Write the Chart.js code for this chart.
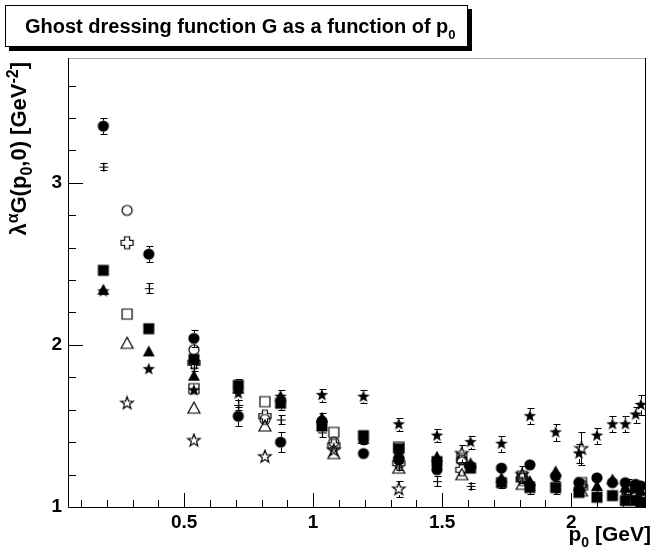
<!DOCTYPE html>
<html>
<head>
<meta charset="utf-8">
<script src="https://cdn.jsdelivr.net/npm/chart.js@4.4.1/dist/chart.umd.min.js"></script>
<style>
  body { margin: 0; background: #fff; }
  #wrap { position: relative; width: 653px; height: 548px; font-family: "Liberation Sans", Arial, sans-serif; font-weight: bold; color: #000; }
  #c { position: absolute; left: 0; top: 0; }
  #title { position: absolute; left: 5px; top: 5px; width: 442px; padding-left: 19px; height: 40px; border: 1px solid #000; background: #fff;
           box-shadow: 4px 4px 0 #000; font-size: 20px; line-height: 40px; text-align: left; white-space: nowrap; }
  #ytitle { position: absolute; left: 8px; top: 322px; width: 260px; line-height: 22px; font-size: 22px; text-align: right;
            white-space: nowrap; transform-origin: top left; transform: rotate(-90deg); }
  #xtitle { position: absolute; right: 2px; top: 523px; font-size: 21px; line-height: 22px; white-space: nowrap; }
  sub, sup { font-size: 13px; line-height: 0; }
  #ytitle sub, #ytitle sup { font-size: 16px; }
  #xtitle sub { font-size: 14px; }
  sub { vertical-align: -6px; }
  sup { vertical-align: 8px; }
</style>
</head>
<body>
<div id="wrap">
  <canvas id="c" width="653" height="548"></canvas>
  <div id="title">Ghost dressing function G as a function of p<sub>0</sub></div>
  <div id="ytitle">&lambda;<sup>&alpha;</sup>G(p<sub>0</sub>,0) [GeV<sup>-2</sup>]</div>
  <div id="xtitle">p<sub>0</sub> [GeV]</div>
</div>
<script>
// momenta (GeV) of the two lattice sets
const xFilled = [0.187, 0.363, 0.538, 0.71, 0.874, 1.034, 1.195, 1.332, 1.48, 1.61, 1.73, 1.84, 1.94, 2.03, 2.10, 2.16, 2.21, 2.25, 2.27];
const xOpen = [0.279, 0.538, 0.813, 1.08, 1.332, 1.576, 1.81, 2.04, 2.22];

// filled-marker series
const fCircle = [3.35, 2.56, 2.04, 1.56, 1.40, 1.53, 1.33, 1.29, 1.23, 1.25, 1.24, 1.26, 1.19, 1.15, 1.18, 1.15, 1.15, 1.14, 1.13];
const fCircleErr = [0.05, 0.05, 0.05, 0.06, 0.06, 0.05, 0.03, 0.03, 0.03, 0.03, 0.02, 0.02, 0.02, 0.02, 0.02, 0.02, 0.02, 0.02, 0.02];
const fPlus = [3.10, 2.35, 1.86, 1.63, 1.54, 1.46, 1.41, 1.25, 1.16, 1.13, 1.14, 1.12, 1.11, 1.10, 1.09, 1.08, 1.08, 1.07, 1.06];
const fPlusErr = [0.02, 0.03, 0.02, 0.03, 0.03, 0.03, 0.02, 0.02, 0.03, 0.02, 0.02, 0.02, 0.02, 0.02, 0.02, 0.02, 0.02, 0.02, 0.02];
const fSquare = [2.46, 2.10, 1.91, 1.75, 1.64, 1.50, 1.44, 1.36, 1.28, 1.24, 1.15, 1.12, 1.12, 1.09, 1.06, 1.07, 1.04, 1.04, 1.03];
const fSquareErr = [0.02, 0.02, 0.02, 0.04, 0.04, 0.02, 0.02, 0.02, 0.02, 0.02, 0.02, 0.04, 0.04, 0.02, 0.02, 0.02, 0.02, 0.02, 0.02];
const fTriangle = [2.34, 1.96, 1.81, 1.73, 1.68, 1.55, 1.42, 1.33, 1.31, 1.27, 1.18, 1.16, 1.22, 1.13, 1.13, 1.17, 1.12, 1.12, 1.10];
const fTriangleErr = [0.02, 0.02, 0.02, 0.02, 0.02, 0.02, 0.02, 0.02, 0.02, 0.02, 0.02, 0.02, 0.02, 0.02, 0.02, 0.02, 0.02, 0.02, 0.02];
const fStar = [2.33, 1.85, 1.72, 1.70, 1.68, 1.69, 1.68, 1.51, 1.44, 1.40, 1.39, 1.56, 1.46, 1.33, 1.44, 1.51, 1.51, 1.57, 1.63];
const fStarErr = [0.02, 0.02, 0.02, 0.04, 0.04, 0.04, 0.04, 0.04, 0.04, 0.04, 0.05, 0.05, 0.05, 0.06, 0.05, 0.05, 0.05, 0.05, 0.06];

// open-marker series
const oCircle = [2.83, 1.97, 1.54, 1.40, 1.30, 1.29, 1.18, 1.14, 1.13];
const oCircleErr = [0.02, 0.02, 0.02, 0.02, 0.02, 0.02, 0.02, 0.02, 0.02];
const oCross = [2.63, 1.89, 1.56, 1.38, 1.27, 1.23, 1.17, 1.12, 1.10];
const oCrossErr = [0.02, 0.02, 0.02, 0.02, 0.02, 0.02, 0.02, 0.02, 0.02];
const oSquare = [2.19, 1.73, 1.65, 1.46, 1.37, 1.30, 1.19, 1.15, 1.12];
const oSquareErr = [0.02, 0.02, 0.02, 0.02, 0.02, 0.02, 0.02, 0.02, 0.02];
const oTriangle = [2.01, 1.61, 1.50, 1.33, 1.24, 1.20, 1.14, 1.10, 1.08];
const oTriangleErr = [0.02, 0.02, 0.02, 0.02, 0.02, 0.02, 0.02, 0.02, 0.02];
const oStar = [1.64, 1.41, 1.31, 1.35, 1.11, 1.33, 1.20, 1.36, 1.12];
const oStarErr = [0.02, 0.02, 0.02, 0.04, 0.05, 0.05, 0.05, 0.10, 0.05];

// ROOT-like markers drawn into small canvases
function marker(kind, filled) {
  const s = 16;
  const c = document.createElement('canvas');
  c.width = s; c.height = s;
  const g = c.getContext('2d');
  g.translate(s / 2, s / 2);
  g.lineWidth = 1.2;
  g.strokeStyle = '#000';
  g.fillStyle = '#000';
  g.beginPath();
  if (kind === 'circle') {
    g.arc(0, 0, filled ? 5.6 : 5, 0, Math.PI * 2);
  } else if (kind === 'square') {
    if (filled) g.rect(-5.5, -5.5, 11, 11); else g.rect(-5, -5, 10, 10);
  } else if (kind === 'triangle') {
    g.moveTo(0, -6); g.lineTo(6, 5); g.lineTo(-6, 5); g.closePath();
  } else if (kind === 'star') {
    for (let k = 0; k < 10; k++) {
      const r = k % 2 ? 2.7 : 6.6;
      const a = -Math.PI / 2 + k * Math.PI / 5;
      k ? g.lineTo(r * Math.cos(a), r * Math.sin(a)) : g.moveTo(r * Math.cos(a), r * Math.sin(a));
    }
    g.closePath();
  } else if (kind === 'cross') {
    const w = 2.5, l = 6;
    g.moveTo(-w, -l); g.lineTo(w, -l); g.lineTo(w, -w); g.lineTo(l, -w); g.lineTo(l, w); g.lineTo(w, w);
    g.lineTo(w, l); g.lineTo(-w, l); g.lineTo(-w, w); g.lineTo(-l, w); g.lineTo(-l, -w); g.lineTo(-w, -w);
    g.closePath();
  } else if (kind === 'plus') {
    g.moveTo(-4, 0.5); g.lineTo(5, 0.5);
    g.moveTo(0.5, -4); g.lineTo(0.5, 5);
    g.stroke();
    return c;
  }
  if (filled) g.fill(); else g.stroke();
  return c;
}

function series(xs, ys, errs, style, half) {
  return {
    data: xs.map((x, i) => ({ x: x, y: ys[i] })),
    errors: errs,
    markerHalf: half,
    pointStyle: style,
    pointRadius: 6,
    pointHoverRadius: 6,
    showLine: false
  };
}

// error bars that stop at the marker edge
const errorBars = {
  id: 'errorBars',
  beforeDatasetsDraw(chart) {
    const ctx = chart.ctx, ys = chart.scales.y, a = chart.chartArea;
    ctx.save();
    ctx.beginPath();
    ctx.rect(a.left, a.top, a.right - a.left, a.bottom - a.top);
    ctx.clip();
    ctx.strokeStyle = '#000';
    ctx.lineWidth = 1;
    chart.data.datasets.forEach((ds, i) => {
      const meta = chart.getDatasetMeta(i);
      const h = ds.markerHalf;
      meta.data.forEach((pt, j) => {
        const v = ds.data[j].y, e = ds.errors[j];
        const x = Math.round(pt.x) + 0.5;
        const yc = pt.y;
        const y1 = Math.round(ys.getPixelForValue(v + e)) + 0.5;
        const y2 = Math.round(ys.getPixelForValue(v - e)) + 0.5;
        if (yc - y1 <= h) return;
        ctx.beginPath();
        ctx.moveTo(x, y1); ctx.lineTo(x, yc - h);
        ctx.moveTo(x, yc + h); ctx.lineTo(x, y2);
        ctx.moveTo(x - 3, y1); ctx.lineTo(x + 4, y1);
        ctx.moveTo(x - 3, y2); ctx.lineTo(x + 4, y2);
        ctx.stroke();
      });
    });
    ctx.restore();
  }
};

// frame and inward ticks, ROOT style
const frame = {
  id: 'frame',
  afterDraw(chart) {
    const ctx = chart.ctx, a = chart.chartArea, xs = chart.scales.x, ys = chart.scales.y;
    ctx.save();
    ctx.lineWidth = 1;
    ctx.strokeStyle = '#aaa';
    ctx.beginPath();
    ctx.moveTo(a.left, a.top + 0.5); ctx.lineTo(a.right, a.top + 0.5);
    ctx.stroke();
    ctx.strokeStyle = '#000';
    ctx.beginPath();
    ctx.moveTo(a.right - 0.5, a.top); ctx.lineTo(a.right - 0.5, a.bottom);
    ctx.moveTo(a.left + 0.5, a.top); ctx.lineTo(a.left + 0.5, a.bottom + 0.5);
    ctx.lineTo(a.right, a.bottom + 0.5);
    for (let k = 1; k <= 22; k++) {
      const v = k / 10;
      const px = Math.round(xs.getPixelForValue(v)) + 0.5;
      const len = k % 5 === 0 ? 14 : 7;
      ctx.moveTo(px, a.bottom); ctx.lineTo(px, a.bottom - len);
    }
    for (let k = 6; k <= 18; k++) {
      const v = k / 5;
      const py = Math.round(ys.getPixelForValue(v)) + 0.5;
      const len = k % 5 === 0 ? 15 : 8;
      ctx.moveTo(a.left, py); ctx.lineTo(a.left + len, py);
    }
    ctx.stroke();
    ctx.restore();
  }
};

const labelFont = { family: '"Liberation Sans", Arial, sans-serif', weight: 'bold', size: 19 };

new Chart(document.getElementById('c'), {
  type: 'scatter',
  data: {
    datasets: [
      series(xFilled, fCircle, fCircleErr, marker('circle', true), 5.5),
      series(xFilled, fPlus, fPlusErr, marker('plus', true), 1),
      series(xFilled, fSquare, fSquareErr, marker('square', true), 5.5),
      series(xFilled, fTriangle, fTriangleErr, marker('triangle', true), 5.5),
      series(xFilled, fStar, fStarErr, marker('star', true), 5.5),
      series(xOpen, oCircle, oCircleErr, marker('circle', false), 5.5),
      series(xOpen, oCross, oCrossErr, marker('cross', false), 6),
      series(xOpen, oSquare, oSquareErr, marker('square', false), 5.5),
      series(xOpen, oTriangle, oTriangleErr, marker('triangle', false), 5.5),
      series(xOpen, oStar, oStarErr, marker('star', false), 6)
    ]
  },
  options: {
    responsive: false,
    animation: false,
    layout: { padding: { top: 58, right: 3, left: 0, bottom: 0 } },
    plugins: { legend: { display: false }, tooltip: { enabled: false } },
    scales: {
      x: {
        type: 'linear', min: 0.05, max: 2.29,
        grid: { display: false, drawTicks: false },
        border: { display: false },
        afterFit: (s) => { s.height = 41; },
        ticks: {
          stepSize: 0.1, autoSkip: false, maxRotation: 0, padding: 4, color: '#000', font: labelFont,
          callback: (v) => (Math.abs(v * 2 - Math.round(v * 2)) < 1e-6 && v > 0.3) ? String(+v.toFixed(1)) : ''
        }
      },
      y: {
        type: 'linear', min: 1, max: 3.77,
        grid: { display: false, drawTicks: false },
        border: { display: false },
        afterFit: (s) => { s.width = 68; },
        ticks: {
          stepSize: 0.2, autoSkip: false, padding: 6, color: '#000', font: labelFont,
          callback: (v) => Math.abs(v - Math.round(v)) < 1e-6 ? String(Math.round(v)) : ''
        }
      }
    }
  },
  plugins: [errorBars, frame]
});
</script>
</body>
</html>
